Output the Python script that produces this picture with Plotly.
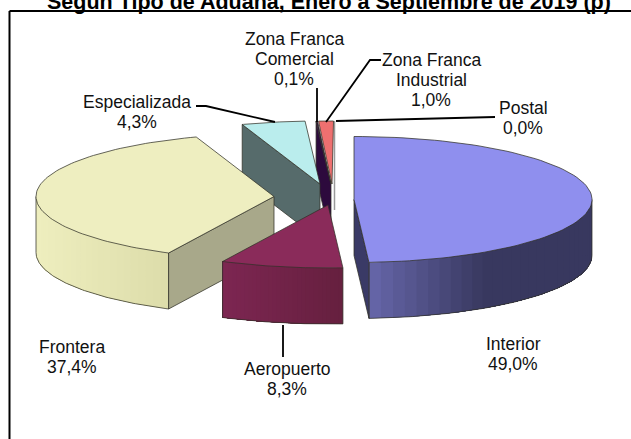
import numpy as np
import plotly.graph_objects as go

# ---- data ----
categories = [["Interior"], ["Aeropuerto"], ["Frontera"], ["Especializada"],
              ["Zona Franca", "Comercial"], ["Zona Franca", "Industrial"], ["Postal"]]
values = [49.0, 8.3, 37.4, 4.3, 0.1, 1.0, 0.0]
title = "Según Tipo de Aduana, Enero a Septiembre de 2019 (p)"

# ---- geometry / style ----
W, H = 631, 439
RX, RY, DEPTH = 238, 63, 56
apex = {0: (354, 199.5), 1: (328, 205), 2: (274, 196.5), 3: (320, 184),
        4: (331, 184), 5: (332, 184), 6: (333, 184)}
top_col = {0: "#8F8FEE", 1: "#8A2B5A", 2: "#EEEEC0", 3: "#BAEDED",
           4: "#2D0A3D", 5: "#EE7070", 6: "#FFFFFF"}
cut_col = {0: "#3A3A66", 2: "#A8A88A", 3: "#566B6B", 4: "#2D0A3D"}
grad = {0: ("#6464A6", "#38385F", 110), 1: ("#66203F", "#7D2652", 120), 2: ("#DDDDAB", "#EEEEBE", 130)}
label_pos = {0: (513, 344), 1: (287, 369), 2: (72, 347), 3: (137, 102),
             4: (294, 38.5), 5: (431, 60), 6: (523, 108)}
LINE_GAP = 20
leaders = [([196, 206, 275], [106, 106, 122]),
           ([317, 317], [88, 122]),
           ([381, 370, 326], [60, 60, 122]),
           ([495, 336, 336], [117, 121, 121]),
           ([283, 283], [325, 357])]
EDGE = "rgba(50,50,40,0.75)"
FONT = "Liberation Sans"

cum = np.concatenate([[0], np.cumsum(values)]) * 3.6


def pt(i, a):
    r = np.radians(a)
    return apex[i][0] + RX * np.sin(r), apex[i][1] - RY * np.cos(r)


def mix(c1, c2, t):
    a = [int(c1[k:k + 2], 16) for k in (1, 3, 5)]
    b = [int(c2[k:k + 2], 16) for k in (1, 3, 5)]
    return "rgb(%d,%d,%d)" % tuple(round(p + (q - p) * t) for p, q in zip(a, b))


fig = go.Figure()


def poly(xs, ys, fill, line=EDGE, width=1):
    fig.add_trace(go.Scatter(x=list(xs), y=list(ys), mode="lines", fill="toself", fillcolor=fill,
                             line=dict(color=line, width=width), hoverinfo="skip", showlegend=False))


def side(i, a0, a1):
    """Outer rim of slice i, shaded across its width; each band runs to the far end so no seams show."""
    c1, c2, span = grad[i]
    angs = np.linspace(a0, a1, 90)
    xs, ys = pt(i, angs)
    x_ref = xs[0]
    for k in range(0, len(angs) - 1, 3):
        t = min(abs(xs[k] - x_ref) / span, 1)
        poly([*xs[k:], *xs[k:][::-1], xs[k]], [*ys[k:], *(ys[k:][::-1] + DEPTH), ys[k]],
             mix(c1, c2, t), line=mix(c1, c2, t), width=0)
    # bottom arc plus the vertical edges at both ends of the rim
    fig.add_trace(go.Scatter(x=[xs[0], *xs, xs[-1]], y=[ys[0], *(ys + DEPTH), ys[-1]], mode="lines",
                             line=dict(color=EDGE, width=1), hoverinfo="skip", showlegend=False))


def top(i):
    xs, ys = pt(i, np.linspace(cum[i], cum[i + 1], 90))
    poly([apex[i][0], *xs, apex[i][0]], [apex[i][1], *ys, apex[i][1]], top_col[i])


def cut(i, a):
    xa, ya = pt(i, a)
    ax, ay = apex[i]
    poly([ax, xa, xa, ax, ax], [ay, ya, ya + DEPTH, ay + DEPTH, ay], cut_col[i])


# Postal: zero share, only a grey edge remains
xp, yp = pt(6, cum[6])
fig.add_trace(go.Scatter(x=[xp, xp], y=[yp, apex[6][1] + 26], mode="lines",
                         line=dict(color="#9A9A9A", width=1.5), hoverinfo="skip", showlegend=False))
# Zona Franca strips
cut(4, cum[4])
top(4)
top(5)
# Especializada
cut(3, cum[3])
top(3)
# Frontera
side(2, cum[2], 270)
cut(2, cum[2])
top(2)
# Aeropuerto
side(1, cum[1], cum[2])
top(1)
# Interior
side(0, cum[1], 90)
cut(0, cum[1])
top(0)

# leaders
for lx, ly in leaders:
    fig.add_trace(go.Scatter(x=lx, y=ly, mode="lines", line=dict(color="#000000", width=1.8),
                             hoverinfo="skip", showlegend=False))

# labels, one annotation per line so that the spacing can follow the reference
for i, (cat, v) in enumerate(zip(categories, values)):
    lines = cat + [f"{v:.1f}%".replace(".", ",")]
    for j, txt in enumerate(lines):
        fig.add_annotation(x=label_pos[i][0], y=label_pos[i][1] + j * LINE_GAP, text=txt,
                           showarrow=False, font=dict(family=FONT, size=17.5, color="#111111"))
fig.add_annotation(x=328.5, y=2, text=f"<b>{title}</b>", showarrow=False,
                   font=dict(family=FONT, size=21.5, color="#000000"))

fig.update_layout(
    width=W, height=H, margin=dict(l=0, r=0, t=0, b=0), autosize=False,
    paper_bgcolor="white", plot_bgcolor="white", showlegend=False,
    xaxis=dict(range=[0, W], visible=False, fixedrange=True),
    yaxis=dict(range=[H, 0], visible=False, fixedrange=True),
    shapes=[dict(type="line", x0=9.5, y0=11, x1=9.5, y1=H, line=dict(color="black", width=2)),
            dict(type="line", x0=9.5, y0=11, x1=W, y1=11, line=dict(color="black", width=2))],
)
fig.write_html("out.html", config={"displayModeBar": False},
               post_script="document.body.style.margin='0';document.body.style.overflow='hidden';")
